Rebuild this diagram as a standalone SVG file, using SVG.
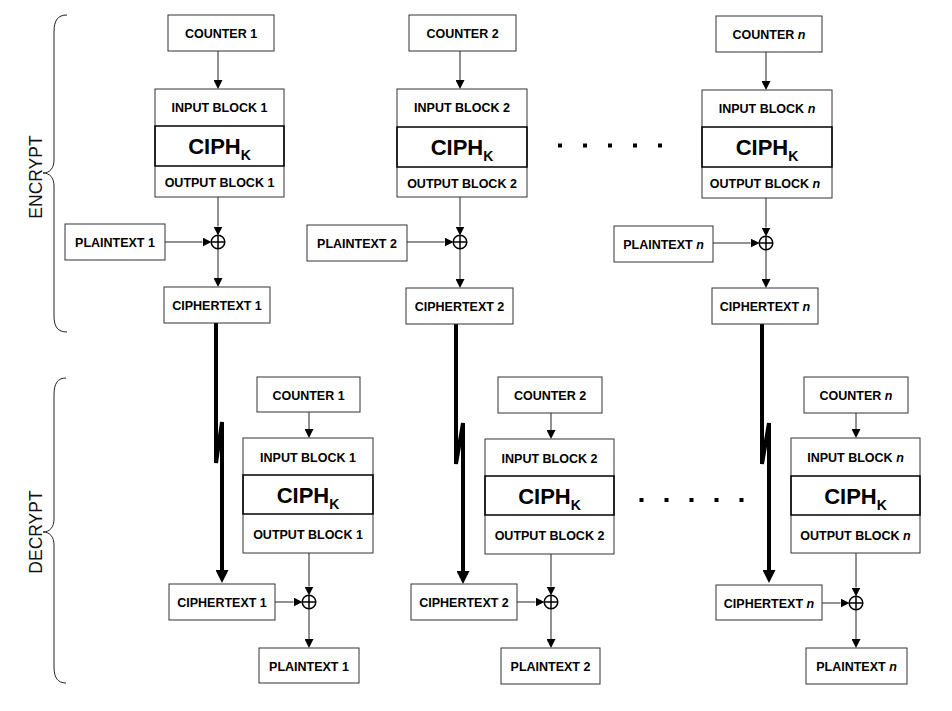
<svg xmlns="http://www.w3.org/2000/svg" width="952" height="711" viewBox="0 0 952 711">
<defs>
<style>
.bx{fill:#fff;stroke:#333;stroke-width:1}
.mid{fill:none;stroke:#000;stroke-width:1.5}
.t{font-family:"Liberation Sans",Arial,sans-serif;font-weight:bold;font-size:12.5px;fill:#000;text-anchor:middle}
.c{font-family:"Liberation Sans",Arial,sans-serif;font-weight:bold;font-size:22px;fill:#000;text-anchor:middle}
.side{font-family:"Liberation Sans",Arial,sans-serif;font-size:17.5px;fill:#111;text-anchor:middle}
.ln{fill:none;stroke:#222;stroke-width:1;marker-end:url(#a)}
.th{fill:none;stroke:#000;stroke-width:4;stroke-linejoin:miter;marker-end:url(#b)}
.br{fill:none;stroke:#222;stroke-width:1}
.x{fill:#fff;stroke:#000;stroke-width:1.5}
.d{fill:#000}
</style>
<marker id="a" markerUnits="userSpaceOnUse" markerWidth="9" markerHeight="9" viewBox="0 0 9 9" refX="0" refY="4.5" orient="auto"><path d="M0,0L9,4.5L0,9z" fill="#000"/></marker>
<marker id="b" markerUnits="userSpaceOnUse" markerWidth="13" markerHeight="13" viewBox="0 0 13 13" refX="0" refY="6.5" orient="auto"><path d="M0,0L13,6.5L0,13z" fill="#000"/></marker>
<symbol id="xor" viewBox="-8 -8 16 16" overflow="visible"><circle r="6.8" class="x"/><path d="M-6.8,0H6.8M0,-6.8V6.8" stroke="#000" stroke-width="1.5"/></symbol>
</defs>

<g id="braces">
<path class="br" d="M67,15 C58,15 54,20 54,32 L54,160 C54,168 50,173 43,173 C50,173 54,178 54,186 L54,316 C54,327 58,332 67,332"/>
<path class="br" d="M66,378 C58,378 54,383 54,395 L54,519 C54,527 50,532 43,532 C50,532 54,537 54,545 L54,667 C54,678 58,683 66,683"/>
<text class="side" transform="translate(42,177) rotate(-90)">ENCRYPT</text>
<text class="side" transform="translate(42,532) rotate(-90)">DECRYPT</text>
</g>

<g id="dots">
<rect class="d" x="558" y="143.5" width="4" height="4"/>
<rect class="d" x="583" y="143.5" width="4" height="4"/>
<rect class="d" x="608" y="143.5" width="4" height="4"/>
<rect class="d" x="633" y="143.5" width="4" height="4"/>
<rect class="d" x="658" y="143.5" width="4" height="4"/>
<rect class="d" x="639.5" y="498" width="4" height="4"/>
<rect class="d" x="664.5" y="498" width="4" height="4"/>
<rect class="d" x="689.5" y="498" width="4" height="4"/>
<rect class="d" x="714.5" y="498" width="4" height="4"/>
<rect class="d" x="739.5" y="498" width="4" height="4"/>
</g>

<g id="connectors">
<path class="ln" d="M218,51 L218,80"/>
<path class="ln" d="M218,197 L218,226.5"/>
<path class="ln" d="M165,242 L202.5,242"/>
<path class="ln" d="M218,248.5 L218,278"/>
<path class="ln" d="M460,51 L460,80"/>
<path class="ln" d="M460,197 L460,226.5"/>
<path class="ln" d="M407,242 L444.5,242"/>
<path class="ln" d="M460,248.5 L460,279"/>
<path class="ln" d="M766,52 L766,81"/>
<path class="ln" d="M766,198 L766,227.5"/>
<path class="ln" d="M713,243 L750.5,243"/>
<path class="ln" d="M766,249.5 L766,279"/>
<path class="ln" d="M309,412 L309,429"/>
<path class="ln" d="M309,553 L309,586.5"/>
<path class="ln" d="M275,602 L293.5,602"/>
<path class="ln" d="M309,608.5 L309,639"/>
<path class="ln" d="M551,413 L551,430"/>
<path class="ln" d="M551,554 L551,586.5"/>
<path class="ln" d="M517,602 L535.5,602"/>
<path class="ln" d="M551,608.5 L551,639"/>
<path class="ln" d="M856,413 L856,429"/>
<path class="ln" d="M856,553 L856,587.5"/>
<path class="ln" d="M822,603 L840.5,603"/>
<path class="ln" d="M856,609.5 L856,639"/>
<path class="th" d="M216,323 L216,463 L222,422 L222,570"/>
<path class="th" d="M456,324 L456,464 L463,423 L463,571"/>
<path class="th" d="M762,324 L762,464 L769,423 L769,570"/>
</g>

<g id="xors">
<use href="#xor" x="210" y="234" width="16" height="16"/>
<use href="#xor" x="452" y="234" width="16" height="16"/>
<use href="#xor" x="758" y="235" width="16" height="16"/>
<use href="#xor" x="301" y="594" width="16" height="16"/>
<use href="#xor" x="543" y="594" width="16" height="16"/>
<use href="#xor" x="848" y="595" width="16" height="16"/>
</g>

<!-- ENCRYPT column 1 -->
<g id="enc-counter-1"><rect class="bx" x="168" y="15" width="106" height="36"/><text class="t" x="221" y="38">COUNTER 1</text></g>
<g id="enc-cipher-1"><rect class="bx" x="155" y="89" width="129" height="108"/><rect class="mid" x="155" y="126" width="129" height="40"/>
<text class="t" x="219.5" y="111.5">INPUT BLOCK 1</text><text class="c" x="219.5" y="154">CIPH<tspan font-size="14" dy="6">K</tspan></text><text class="t" x="219.5" y="187">OUTPUT BLOCK 1</text></g>
<g id="enc-plain-1"><rect class="bx" x="65" y="224" width="100" height="36"/><text class="t" x="115" y="247">PLAINTEXT 1</text></g>
<g id="enc-cipherText-1"><rect class="bx" x="164" y="287" width="106" height="36"/><text class="t" x="217" y="310">CIPHERTEXT 1</text></g>

<!-- ENCRYPT column 2 -->
<g id="enc-counter-2"><rect class="bx" x="409" y="15" width="107" height="36"/><text class="t" x="462.5" y="38">COUNTER 2</text></g>
<g id="enc-cipher-2"><rect class="bx" x="397" y="89" width="130" height="108"/><rect class="mid" x="397" y="127" width="130" height="40"/>
<text class="t" x="462" y="112">INPUT BLOCK 2</text><text class="c" x="462" y="155">CIPH<tspan font-size="14" dy="6">K</tspan></text><text class="t" x="462" y="187.5">OUTPUT BLOCK 2</text></g>
<g id="enc-plain-2"><rect class="bx" x="307" y="225" width="100" height="36"/><text class="t" x="357" y="248">PLAINTEXT 2</text></g>
<g id="enc-cipherText-2"><rect class="bx" x="406" y="288" width="107" height="36"/><text class="t" x="459.5" y="311">CIPHERTEXT 2</text></g>

<!-- ENCRYPT column n -->
<g id="enc-counter-n"><rect class="bx" x="716" y="16" width="106" height="36"/><text class="t" x="769" y="39">COUNTER <tspan font-style="italic">n</tspan></text></g>
<g id="enc-cipher-n"><rect class="bx" x="702" y="90" width="130" height="108"/><rect class="mid" x="702" y="127" width="130" height="40"/>
<text class="t" x="767" y="112.5">INPUT BLOCK <tspan font-style="italic">n</tspan></text><text class="c" x="767" y="155">CIPH<tspan font-size="14" dy="6">K</tspan></text><text class="t" x="765" y="188">OUTPUT BLOCK <tspan font-style="italic">n</tspan></text></g>
<g id="enc-plain-n"><rect class="bx" x="614" y="226" width="99" height="36"/><text class="t" x="663.5" y="249">PLAINTEXT <tspan font-style="italic">n</tspan></text></g>
<g id="enc-cipherText-n"><rect class="bx" x="712" y="288" width="106" height="36"/><text class="t" x="765" y="311">CIPHERTEXT <tspan font-style="italic">n</tspan></text></g>

<!-- DECRYPT column 1 -->
<g id="dec-counter-1"><rect class="bx" x="257" y="377" width="103" height="35"/><text class="t" x="308.5" y="399.5">COUNTER 1</text></g>
<g id="dec-cipher-1"><rect class="bx" x="243" y="438" width="130" height="115"/><rect class="mid" x="243" y="475" width="130" height="39"/>
<text class="t" x="308" y="461.5">INPUT BLOCK 1</text><text class="c" x="308" y="502.5">CIPH<tspan font-size="14" dy="6">K</tspan></text><text class="t" x="308" y="539">OUTPUT BLOCK 1</text></g>
<g id="dec-cipherText-1"><rect class="bx" x="169" y="584" width="106" height="36"/><text class="t" x="222" y="607">CIPHERTEXT 1</text></g>
<g id="dec-plain-1"><rect class="bx" x="259" y="648" width="100" height="35"/><text class="t" x="309" y="670.5">PLAINTEXT 1</text></g>

<!-- DECRYPT column 2 -->
<g id="dec-counter-2"><rect class="bx" x="498" y="377" width="104" height="36"/><text class="t" x="550" y="400">COUNTER 2</text></g>
<g id="dec-cipher-2"><rect class="bx" x="485" y="439" width="129" height="115"/><rect class="mid" x="485" y="476" width="129" height="39"/>
<text class="t" x="549.5" y="462.5">INPUT BLOCK 2</text><text class="c" x="549.5" y="503.5">CIPH<tspan font-size="14" dy="6">K</tspan></text><text class="t" x="549.5" y="540">OUTPUT BLOCK 2</text></g>
<g id="dec-cipherText-2"><rect class="bx" x="411" y="584" width="106" height="36"/><text class="t" x="464" y="607">CIPHERTEXT 2</text></g>
<g id="dec-plain-2"><rect class="bx" x="501" y="648" width="99" height="36"/><text class="t" x="550.5" y="671">PLAINTEXT 2</text></g>

<!-- DECRYPT column n -->
<g id="dec-counter-n"><rect class="bx" x="804" y="377" width="104" height="36"/><text class="t" x="856" y="400">COUNTER <tspan font-style="italic">n</tspan></text></g>
<g id="dec-cipher-n"><rect class="bx" x="791" y="438" width="129" height="115"/><rect class="mid" x="791" y="476" width="129" height="39"/>
<text class="t" x="855.5" y="462">INPUT BLOCK <tspan font-style="italic">n</tspan></text><text class="c" x="855.5" y="503.5">CIPH<tspan font-size="14" dy="6">K</tspan></text><text class="t" x="855.5" y="539.5">OUTPUT BLOCK <tspan font-style="italic">n</tspan></text></g>
<g id="dec-cipherText-n"><rect class="bx" x="716" y="585" width="106" height="35"/><text class="t" x="769" y="607.5">CIPHERTEXT <tspan font-style="italic">n</tspan></text></g>
<g id="dec-plain-n"><rect class="bx" x="806" y="648" width="101" height="36"/><text class="t" x="856.5" y="671">PLAINTEXT <tspan font-style="italic">n</tspan></text></g>
</svg>
